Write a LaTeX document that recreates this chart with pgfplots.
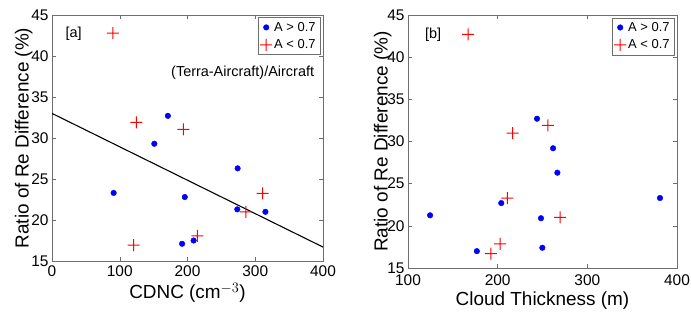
\documentclass[border=0pt]{standalone}
\usepackage{pgfplots}
\pgfplotsset{compat=1.18}
\usepackage{fontspec}
\setmainfont{Liberation Sans}
\definecolor{mblue}{RGB}{0,0,255}
\definecolor{mred}{RGB}{255,0,0}
\definecolor{axgray}{RGB}{110,110,110}
\pgfdeclareplotmark{fplus}{%
  \pgfpathrectangle{\pgfqpoint{-\pgfplotmarksize}{-0.5pt}}{\pgfqpoint{2\pgfplotmarksize}{1pt}}%
  \pgfpathrectangle{\pgfqpoint{-0.5pt}{-\pgfplotmarksize}}{\pgfqpoint{1pt}{2\pgfplotmarksize}}%
  \pgfusepathqfill}
\pgfplotsset{
  common/.style={
    scale only axis,
    /pgf/number format/assume math mode=true,
    tick label style={font=\fontsize{15.5}{17}\selectfont},
    label style={font=\fontsize{19}{21}\selectfont},
    axis line style={axgray},
    tick style={axgray, line width=0.5pt},
    major tick length=4bp,
    tick align=inside,
    ymin=15, ymax=45, ytick={15,20,...,45},
    ylabel={Ratio of Re Difference (\%)},
    legend style={font=\fontsize{13}{15}\selectfont, draw=axgray, at={(0.99,0.99)}, anchor=north east,
      inner sep=2.5pt, row sep=3pt, cells={anchor=west}},
    legend cell align=left,
    xticklabel style={yshift=-1bp},
  },
  bluedots/.style={only marks, mark=*, mark size=2.8bp, color=mblue, mark options={draw=mblue, fill=mblue}},
  redplus/.style={only marks, mark=fplus, mark size=6bp, color=mred, mark options={draw=none, fill=mred}},
}
\begin{document}
\begin{tikzpicture}
\useasboundingbox (0,0) rectangle (691bp,-321bp);
\begin{axis}[common,
  at={(52bp,-15bp)}, anchor=north west,
  width=271bp, height=246bp,
  xmin=0, xmax=400, xtick={0,100,...,400},
  xlabel={CDNC (cm$^{-3}$)},
  ylabel style={yshift=-8bp},
]
\addplot[bluedots] coordinates {
(91,23.3) (151,29.3) (171,32.7) (196,22.8) (192,17.1) (209,17.5) (274,26.3) (273.5,21.3) (315,21.0)
};
\addlegendentry{A > 0.7}
\addplot[redplus] coordinates {
(90,42.8) (120.5,16.95) (124.5,31.9) (194,31.05) (214.5,18.05) (286,21.0) (311,23.25)
};
\addlegendentry{A < 0.7}
\addplot[black, line width=1.1pt, forget plot] coordinates {(0,33.0) (400,16.7)};
\node[anchor=east, font=\fontsize{14.5}{16}\selectfont] at (axis cs:392,38) {(Terra-Aircraft)/Aircraft};
\node[font=\fontsize{14.5}{16}\selectfont] at (axis cs:32,42.7) {[a]};
\end{axis}
\begin{axis}[common,
  at={(408bp,-15bp)}, anchor=north west,
  width=269bp, height=253bp,
  xmin=100, xmax=400, xtick={100,200,...,400},
  xlabel={Cloud Thickness (m)},
  xticklabel style={yshift=-2.5bp},
  xlabel style={yshift=1bp},
  ylabel style={yshift=-11bp},
]
\addplot[bluedots] coordinates {
(124.6,21.25) (176.8,17.0) (204,22.7) (243.9,32.7) (261.8,29.2) (266.6,26.3) (248.3,20.9) (249.8,17.4) (381,23.3)
};
\addlegendentry{A > 0.7}
\addplot[redplus] coordinates {
(167,42.7) (256,31.9) (216.7,31.0) (210.8,23.3) (202.6,17.85) (192.4,16.7) (269.6,21.0)
};
\addlegendentry{A < 0.7}
\node[font=\fontsize{14.5}{16}\selectfont] at (axis cs:128,42.7) {[b]};
\end{axis}
\end{tikzpicture}
\end{document}
